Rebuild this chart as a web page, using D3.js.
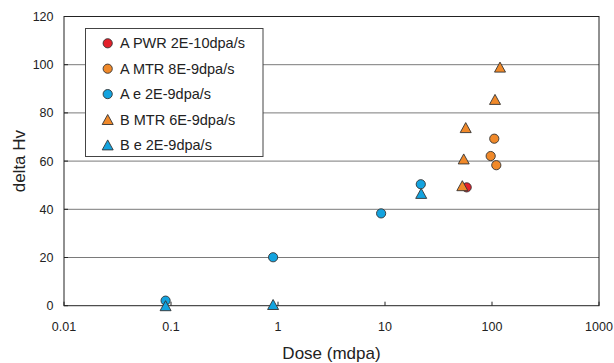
<!DOCTYPE html>
<html><head><meta charset="utf-8">
<script src="https://cdn.jsdelivr.net/npm/d3@7"></script>
<style>body{margin:0;background:#fff}svg{display:block;font-family:"Liberation Sans",Arial,Helvetica,sans-serif}</style>
</head><body><svg id="c" width="614" height="363"></svg>
<script>
const seriesNames = ["A PWR 2E-10dpa/s","A MTR 8E-9dpa/s","A e 2E-9dpa/s","B MTR 6E-9dpa/s","B e 2E-9dpa/s"];
const seriesColors = ["#e3202a","#f0892a","#13a3df","#f0892a","#13a3df"];
const seriesShapes = ["circle","circle","circle","triangle","triangle"];
const aPwrDose = [58]; const aPwrHv = [49.1];
const aMtrDose = [105, 97.2, 109.7]; const aMtrHv = [69.3, 62.1, 58.3];
const aEDose = [0.089, 0.90, 9.2, 21.6]; const aEHv = [2.1, 20.1, 38.3, 50.4];
const bMtrDose = [118.8, 106.7, 56.8, 54.4, 52.8]; const bMtrHv = [99, 85.6, 73.9, 60.9, 49.8];
const bEDose = [0.089, 0.90, 21.8]; const bEHv = [0, 0.5, 46.6];
const xTicks = [0.01, 0.1, 1, 10, 100, 1000];
const yTicks = [0, 20, 40, 60, 80, 100, 120];
const xTickLabels = ["0.01","0.1","1","10","100","1000"];

const seriesData = [[aPwrDose,aPwrHv],[aMtrDose,aMtrHv],[aEDose,aEHv],[bMtrDose,bMtrHv],[bEDose,bEHv]];
const L=64, R=599, T=16.5, B=305.7;
const svg = d3.select("#c");
const x = d3.scaleLog().domain([0.01,1000]).range([L,R]);
const y = d3.scaleLinear().domain([0,120]).range([B,T]);

// gridlines
svg.append("g").selectAll("line").data(yTicks.filter(v=>v>0&&v<120)).join("line")
  .attr("x1",L).attr("x2",R).attr("y1",d=>y(d)).attr("y2",d=>y(d))
  .attr("stroke","#7a7a7a").attr("stroke-width",1);
// y ticks (inward)
svg.append("g").selectAll("line").data(yTicks).join("line")
  .attr("x1",L).attr("x2",L+4).attr("y1",d=>y(d)).attr("y2",d=>y(d))
  .attr("stroke","#222");
// x ticks (inward)
svg.append("g").selectAll("line").data(xTicks).join("line")
  .attr("x1",d=>x(d)).attr("x2",d=>x(d)).attr("y1",B).attr("y2",B-4)
  .attr("stroke","#222");
// frame
svg.append("rect").attr("x",L).attr("y",T).attr("width",R-L).attr("height",B-T)
  .attr("fill","none").attr("stroke","#222").attr("stroke-width",1);

// tick labels
svg.append("g").selectAll("text").data(yTicks).join("text")
  .attr("x",53.5).attr("y",d=>y(d)+4.5).attr("text-anchor","end")
  .attr("font-size",12.5).attr("fill","#222").text(d=>d);
svg.append("g").selectAll("text").data(xTicks).join("text")
  .attr("x",d=>x(d)).attr("y",331).attr("text-anchor","middle")
  .attr("font-size",12.5).attr("fill","#222").text((d,i)=>xTickLabels[i]);

// axis titles
svg.append("text").attr("x",(L+R)/2).attr("y",359).attr("text-anchor","middle")
  .attr("font-size",17).attr("fill","#222").text("Dose (mdpa)");
svg.append("text").attr("transform",`translate(25,${(T+B)/2}) rotate(-90)`)
  .attr("text-anchor","middle").attr("font-size",17).attr("fill","#222").text("delta Hv");

function triPath(cx,cy){const w=11,h=10;return `M${cx},${cy-h/2}L${cx+w/2},${cy+h/2}L${cx-w/2},${cy+h/2}Z`;}
function drawMarker(g,shape,cx,cy,color){
  if(shape==="circle") g.append("circle").attr("cx",cx).attr("cy",cy).attr("r",4.6)
    .attr("fill",color).attr("stroke","#333").attr("stroke-width",0.9);
  else g.append("path").attr("d",triPath(cx,cy)).attr("fill",color)
    .attr("stroke","#333").attr("stroke-width",0.9);
}
// points
const pg = svg.append("g");
seriesData.forEach((s,i)=>{
  s[0].forEach((d,j)=>drawMarker(pg,seriesShapes[i],x(d),y(s[1][j]),seriesColors[i]));
});

// legend
const lg = svg.append("g");
lg.append("rect").attr("x",85.5).attr("y",28.5).attr("width",177.5).attr("height",128)
  .attr("fill","#fff").attr("stroke","#444").attr("stroke-width",1);
seriesNames.forEach((n,i)=>{
  const cy = 43.3 + i*25.4;
  drawMarker(lg,seriesShapes[i],107.7,cy,seriesColors[i]);
  lg.append("text").attr("x",120).attr("y",cy+5).attr("font-size",14.5).attr("fill","#222").text(n);
});
</script></body></html>
